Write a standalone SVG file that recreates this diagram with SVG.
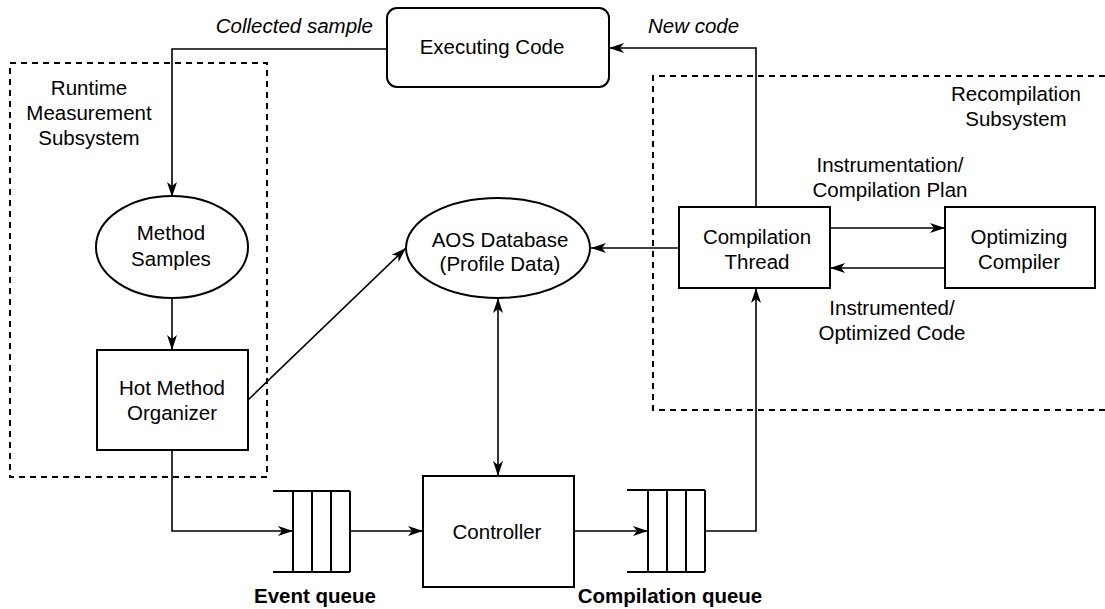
<svg xmlns="http://www.w3.org/2000/svg" width="1105" height="609" viewBox="0 0 1105 609">
<style>
text{font-family:"Liberation Sans",Arial,sans-serif;font-size:20.5px;fill:#000;text-anchor:middle}
.it{font-style:italic}
.b{font-weight:bold}
.box{fill:#fff;stroke:#000;stroke-width:2}
.dash{fill:none;stroke:#000;stroke-width:2;stroke-dasharray:6 5}
.c{fill:none;stroke:#000;stroke-width:1.6}
.q{fill:none;stroke:#000;stroke-width:2}
</style>
<defs>
<marker id="ah" markerWidth="16" markerHeight="12" refX="15" refY="6" orient="auto-start-reverse" markerUnits="userSpaceOnUse">
<path d="M0,1 L15,6 L0,11 L4,6 z" fill="#000"/>
</marker>
</defs>
<g id="runtime-subsystem">
<rect class="dash" x="10" y="63" width="257" height="414"/>
<text x="89" y="95">Runtime</text>
<text x="89" y="120">Measurement</text>
<text x="89" y="145">Subsystem</text>
</g>
<g id="recompilation-subsystem">
<path class="dash" d="M1105,76 H653 V410 H1105"/>
<text x="1016" y="101">Recompilation</text>
<text x="1016" y="126">Subsystem</text>
</g>
<g id="connectors">
<path class="c" d="M387,49 H172 V197" marker-end="url(#ah)"/>
<path class="c" d="M172,298 V350" marker-end="url(#ah)"/>
<path class="c" d="M248,400 L406,248" marker-end="url(#ah)"/>
<path class="c" d="M172,450 V531 H293" marker-end="url(#ah)"/>
<path class="c" d="M350,531 H423" marker-end="url(#ah)"/>
<path class="c" d="M574,531 H648" marker-end="url(#ah)"/>
<path class="c" d="M705,531 H756 V288" marker-end="url(#ah)"/>
<path class="c" d="M756,207 V48 H609" marker-end="url(#ah)"/>
<path class="c" d="M679,248 H591" marker-end="url(#ah)"/>
<path class="c" d="M498,298 V476" marker-start="url(#ah)" marker-end="url(#ah)"/>
<path class="c" d="M830,228 H945" marker-end="url(#ah)"/>
<path class="c" d="M945,268 H830" marker-end="url(#ah)"/>
<text class="it" x="373" y="33" style="text-anchor:end">Collected sample</text>
<text class="it" x="648" y="33" style="text-anchor:start">New code</text>
<text x="890" y="172">Instrumentation/</text>
<text x="890" y="197">Compilation Plan</text>
<text x="892" y="315">Instrumented/</text>
<text x="892" y="340">Optimized Code</text>
</g>
<g id="executing-code">
<rect class="box" x="387" y="8" width="222" height="79" rx="10"/>
<text x="492" y="54">Executing Code</text>
</g>
<g id="method-samples">
<ellipse class="box" cx="172" cy="247" rx="76" ry="51"/>
<text x="171" y="240">Method</text>
<text x="171" y="266">Samples</text>
</g>
<g id="hot-method-organizer">
<rect class="box" x="97" y="350" width="151" height="100"/>
<text x="172" y="395">Hot Method</text>
<text x="172" y="420">Organizer</text>
</g>
<g id="aos-database">
<ellipse class="box" cx="498" cy="248" rx="92" ry="50"/>
<text x="500" y="247">AOS Database</text>
<text x="500" y="271">(Profile Data)</text>
</g>
<g id="compilation-thread">
<rect class="box" x="679" y="207" width="151" height="81"/>
<text x="757" y="244">Compilation</text>
<text x="757" y="269">Thread</text>
</g>
<g id="optimizing-compiler">
<rect class="box" x="945" y="207" width="150" height="81"/>
<text x="1019" y="244">Optimizing</text>
<text x="1019" y="269">Compiler</text>
</g>
<g id="controller">
<rect class="box" x="423" y="476" width="151" height="111"/>
<text x="497" y="539">Controller</text>
</g>
<g id="event-queue">
<path class="q" d="M273,491 H350 M273,572 H350 M293,491 V572 M312,491 V572 M331,491 V572 M350,491 V572"/>
<text class="b" x="315" y="603">Event queue</text>
</g>
<g id="compilation-queue">
<path class="q" d="M627,490 H705 M627,572 H705 M648,490 V572 M667,490 V572 M686,490 V572 M705,490 V572"/>
<text class="b" x="670" y="603">Compilation queue</text>
</g>
</svg>
